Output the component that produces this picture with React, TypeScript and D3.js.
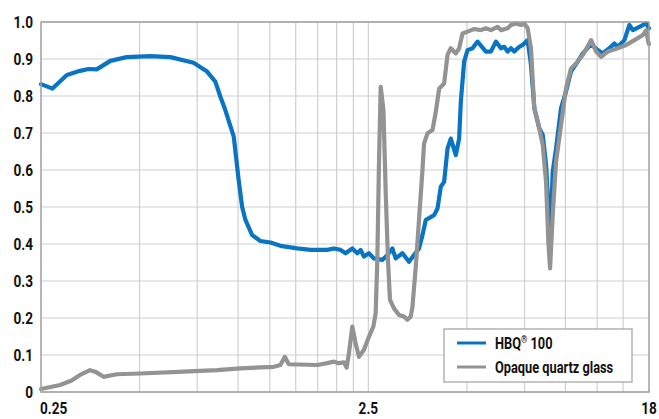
import React from "react";
import * as d3 from "d3";

// wavelength in µm, reflectance 0..1
const hbqWavelength = [
  0.25, 0.271, 0.3, 0.329, 0.349, 0.37, 0.407, 0.457, 0.539, 0.621, 0.731, 0.804, 0.852, 0.883, 0.914, 0.97,
  1.004, 1.029, 1.053, 1.104, 1.17, 1.256, 1.347, 1.516, 1.665, 1.872, 1.962, 2.057, 2.13, 2.233, 2.313, 2.368,
  2.424, 2.51, 2.6, 2.757, 2.858, 2.96, 3.03, 3.177, 3.327, 3.447, 3.57, 3.658, 3.744, 3.97, 4.067, 4.162,
  4.26, 4.363, 4.465, 4.625, 4.734, 4.791, 4.904, 5.023, 5.203, 5.39, 5.715, 5.919, 6.132, 6.352, 6.501, 6.659,
  6.817, 6.978, 7.228, 7.403, 7.668, 7.848, 8.033, 8.322, 8.524, 8.725, 8.93, 9.005, 9.145, 9.36, 9.695, 10.04,
  10.4, 10.9, 11.3, 11.98, 12.55, 13.0, 13.62, 14.11, 14.45, 15.14, 15.68, 16.07, 16.83, 17.65, 18.0,
];
const hbqValue = [
  0.832, 0.82, 0.857, 0.868, 0.873, 0.872, 0.895, 0.905, 0.908, 0.905, 0.89, 0.866, 0.839, 0.798, 0.762, 0.69,
  0.573, 0.5, 0.465, 0.424, 0.408, 0.404, 0.395, 0.388, 0.384, 0.384, 0.388, 0.384, 0.375, 0.388, 0.375, 0.384,
  0.366, 0.375, 0.361, 0.357, 0.37, 0.388, 0.361, 0.375, 0.352, 0.37, 0.388, 0.424, 0.465, 0.478, 0.496, 0.555,
  0.568, 0.658, 0.685, 0.64, 0.685, 0.785, 0.893, 0.924, 0.929, 0.947, 0.92, 0.92, 0.947, 0.929, 0.933, 0.92,
  0.929, 0.92, 0.933, 0.938, 0.951, 0.884, 0.767, 0.713, 0.695, 0.614, 0.46, 0.433, 0.595, 0.658, 0.767, 0.812,
  0.866, 0.893, 0.915, 0.94, 0.924, 0.915, 0.929, 0.942, 0.933, 0.951, 0.992, 0.978, 0.987, 0.996, 0.983,
];

const quartzWavelength = [
  0.25, 0.286, 0.31, 0.329, 0.353, 0.366, 0.388, 0.426, 0.502, 0.682, 0.863, 1.016, 1.285, 1.347, 1.389, 1.429,
  1.746, 1.872, 1.962, 2.032, 2.105, 2.146, 2.181, 2.233, 2.286, 2.34, 2.424, 2.51, 2.59, 2.632, 2.663, 2.695,
  2.727, 2.78, 2.825, 2.87, 2.911, 2.994, 3.102, 3.212, 3.29, 3.368, 3.409, 3.49, 3.57, 3.658, 3.7, 3.79,
  3.925, 4.018, 4.113, 4.26, 4.363, 4.465, 4.625, 4.734, 4.849, 5.023, 5.263, 5.517, 5.715, 5.919, 6.206, 6.352,
  6.659, 6.817, 7.061, 7.316, 7.488, 7.668, 7.848, 8.033, 8.229, 8.524, 8.725, 8.868, 8.974, 9.145, 9.36, 9.695,
  10.04, 10.4, 10.9, 11.3, 11.98, 12.41, 12.85, 13.47, 14.45, 15.33, 16.25, 17.25, 17.65, 17.9, 18.0,
];
const quartzValue = [
  0.008, 0.019, 0.031, 0.046, 0.059, 0.055, 0.041, 0.048, 0.05, 0.055, 0.059, 0.064, 0.068, 0.073, 0.095, 0.075,
  0.073, 0.078, 0.082, 0.078, 0.08, 0.066, 0.105, 0.177, 0.131, 0.095, 0.114, 0.149, 0.177, 0.213, 0.357, 0.627,
  0.825, 0.762, 0.537, 0.357, 0.249, 0.226, 0.208, 0.204, 0.195, 0.204, 0.23, 0.339, 0.465, 0.6, 0.672, 0.699,
  0.708, 0.757, 0.82, 0.834, 0.911, 0.929, 0.915, 0.929, 0.969, 0.974, 0.981, 0.978, 0.983, 0.978, 0.987, 0.978,
  0.983, 0.992, 0.996, 0.992, 0.996, 0.983, 0.929, 0.767, 0.731, 0.668, 0.568, 0.406, 0.334, 0.478, 0.622, 0.722,
  0.82, 0.874, 0.893, 0.911, 0.951, 0.92, 0.906, 0.92, 0.929, 0.938, 0.951, 0.965, 0.978, 0.947, 0.94,
];

const xGrid = [0.5, 0.75, 1, 1.25, 1.5, 1.75, 2, 2.25, 2.5, 5, 7.5, 10, 12.5, 15];
const xLabels = [0.25, 2.5, 18];
const yTicks = [0, 0.1, 0.2, 0.3, 0.4, 0.5, 0.6, 0.7, 0.8, 0.9, 1.0];
const seriesNames = ["HBQ", "Opaque quartz glass"];
const seriesColors = ["#0a74c4", "#939393"];

const W = 659;
const H = 419;
const margin = { top: 22, right: 10, bottom: 27, left: 41 };
const font = "Roboto, 'DejaVu Sans', sans-serif";
const squeeze = 0.8; // condensed look

// text drawn with horizontal squeeze around its anchor
function Label(props: { x: number; y: number; anchor?: string; size?: number; children: React.ReactNode }) {
  const { x, y, anchor = "start", size = 16, children } = props;
  return (
    <text
      transform={`translate(${x},${y}) scale(${squeeze},1)`}
      textAnchor={anchor}
      fontSize={size}
      fill="#111"
    >
      {children}
    </text>
  );
}

export default function App() {
  const x = d3.scaleLog().domain([0.25, 18]).range([margin.left, W - margin.right]);
  const y = d3.scaleLinear().domain([0, 1]).range([H - margin.bottom, margin.top]);

  const line = d3
    .line<[number, number]>()
    .x((d) => x(d[0]))
    .y((d) => y(d[1]));

  const hbq = hbqWavelength.map((w, i) => [w, hbqValue[i]] as [number, number]);
  const quartz = quartzWavelength.map((w, i) => [w, quartzValue[i]] as [number, number]);

  const [x0, x1] = x.range();
  const [y0, y1] = y.range();

  const lgX = 444;
  const lgY = 329;

  return (
    <svg
      width={W}
      height={H}
      style={{ position: "absolute", left: 0, top: 0, background: "#fff" }}
      fontFamily={font}
      fontWeight="bold"
    >
      {/* grid */}
      {yTicks.map((t) => (
        <line key={"gy" + t} x1={x0} x2={x1} y1={y(t)} y2={y(t)} stroke="#cfcfcf" strokeWidth={1.2} />
      ))}
      {xGrid.map((t) => (
        <line key={"gx" + t} x1={x(t)} x2={x(t)} y1={y0} y2={y1} stroke="#cfcfcf" strokeWidth={1.2} />
      ))}

      {/* series */}
      <path d={line(hbq) || ""} fill="none" stroke={seriesColors[0]} strokeWidth={4.2} strokeLinejoin="round" strokeLinecap="round" />
      <path d={line(quartz) || ""} fill="none" stroke={seriesColors[1]} strokeWidth={4.2} strokeLinejoin="round" strokeLinecap="round" />

      {/* frame */}
      <rect x={x0} y={y1} width={x1 - x0} height={y0 - y1} fill="none" stroke="#a0a0a0" strokeWidth={1.5} />

      {/* y labels */}
      {yTicks.map((t) => (
        <Label key={"yl" + t} x={33} y={y(t) + 6} anchor="end" size={17}>
          {t === 0 ? "0" : d3.format(".1f")(t)}
        </Label>
      ))}

      {/* x labels */}
      {xLabels.map((t, i) => (
        <Label key={"xl" + t} x={i === 0 ? x(t) - 1 : x(t)} y={414} anchor={i === 0 ? "start" : "middle"} size={17}>
          {String(t)}
        </Label>
      ))}

      {/* legend */}
      <rect x={lgX} y={lgY} width={188} height={53} fill="#fff" stroke="#a0a0a0" strokeWidth={1.2} />
      {seriesNames.map((name, i) => (
        <g key={name} transform={`translate(${lgX + 13},${lgY + 14 + i * 24})`}>
          <line x1={0} x2={29} y1={0} y2={0} stroke={seriesColors[i]} strokeWidth={3} />
          <Label x={38} y={6} size={16}>
            {name}
            {i === 0 ? (
              <>
                <tspan fontSize={10} dy={-6}>®</tspan>
                <tspan dy={6}> 100</tspan>
              </>
            ) : null}
          </Label>
        </g>
      ))}
    </svg>
  );
}
